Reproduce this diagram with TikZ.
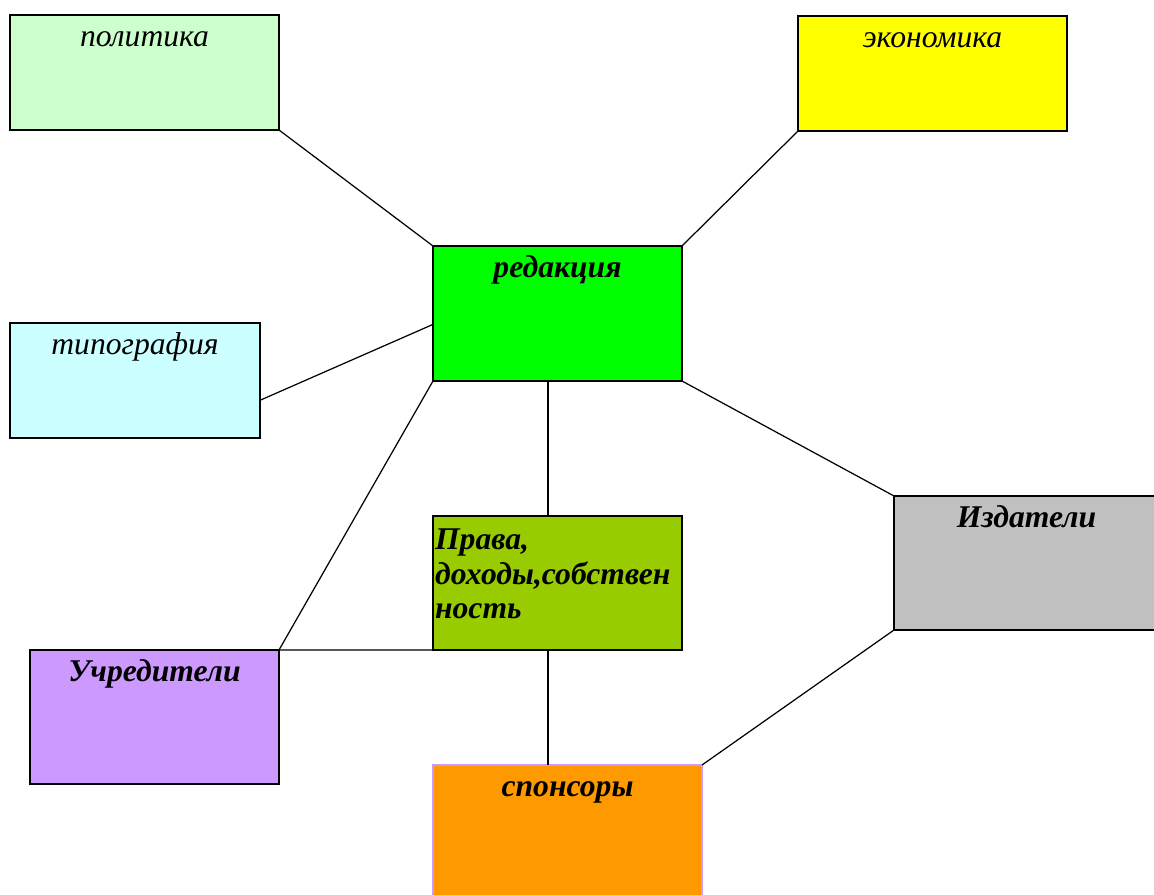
\documentclass[tikz,border=0pt]{standalone}
\usepackage{fontspec}
\setmainfont{Liberation Serif}
\usetikzlibrary{positioning}
\definecolor{politics-green}{HTML}{CCFFCC}
\definecolor{economy-yellow}{HTML}{FFFF00}
\definecolor{office-green}{HTML}{00FF00}
\definecolor{print-cyan}{HTML}{CCFFFF}
\definecolor{publisher-grey}{HTML}{C0C0C0}
\definecolor{rights-olive}{HTML}{99CC00}
\definecolor{founder-violet}{HTML}{CC99FF}
\definecolor{sponsor-orange}{HTML}{FF9900}

\begin{document}
\begin{tikzpicture}[
    box/.style={draw, line width=0.8pt, anchor=north west, inner sep=0pt, outer sep=0pt},
    title/.style={anchor=north, inner sep=5pt, text height=13pt, label distance=0pt, font=\fontsize{18}{19.5}\selectfont\itshape},
    bold title/.style={title, font=\fontsize{18}{19.5}\selectfont\bfseries\itshape},
    link/.style={line width=0.7pt}]
    \useasboundingbox (0,0) rectangle (23.08,-17.9);
    % boxes
    \node[box, fill=politics-green, minimum width=5.38cm, minimum height=2.3cm, label={[title]north:политика}] (politics) at (0.2,-0.3) {};
    \node[box, fill=economy-yellow, minimum width=5.38cm, minimum height=2.3cm, label={[title]north:экономика}] (economy) at (15.96,-0.32) {};
    \node[box, fill=office-green, minimum width=4.98cm, minimum height=2.7cm, label={[bold title]north:редакция}] (office) at (8.66,-4.92) {};
    \node[box, fill=print-cyan, minimum width=5cm, minimum height=2.3cm, label={[title]north:типография}] (printing) at (0.2,-6.46) {};
    \node[box, fill=publisher-grey, minimum width=5.3cm, minimum height=2.68cm, label={[bold title]north:Издатели}] (publishers) at (17.88,-9.92) {};
    \node[box, fill=rights-olive, minimum width=4.98cm, minimum height=2.68cm, label={[bold title, anchor=north west, text width=4.9cm, align=left, inner xsep=1pt, inner ysep=5pt, text height=14pt]north west:{Права,\\доходы,собствен\\ность}}] (rights) at (8.66,-10.32) {};
    \node[box, fill=founder-violet, minimum width=4.98cm, minimum height=2.68cm, label={[bold title]north:Учредители}] (founders) at (0.6,-13.0) {};
    \node[box, fill=sponsor-orange, draw=founder-violet, minimum width=5.38cm, minimum height=2.7cm, label={[bold title]north:спонсоры}] (sponsors) at (8.66,-15.3) {};
    % links
    \draw[link] (politics.south east) -- (office.north west);
    \draw[link] (economy.south west) -- (office.north east);
    \draw[link] (printing.-9) -- (office.185);
    \draw[link] (office.south west) -- (founders.north east);
    \draw[link] ([xshift=-0.19cm]office.south) -- ([xshift=-0.19cm]rights.north);
    \draw[link] (office.south east) -- (publishers.north west);
    \draw[link] (founders.north east) -- (rights.south west);
    \draw[link] ([xshift=-0.19cm]rights.south) -- ([xshift=-0.19cm]rights.south |- sponsors.north);
    \draw[link] (publishers.south west) -- (sponsors.north east);
\end{tikzpicture}
\end{document}
